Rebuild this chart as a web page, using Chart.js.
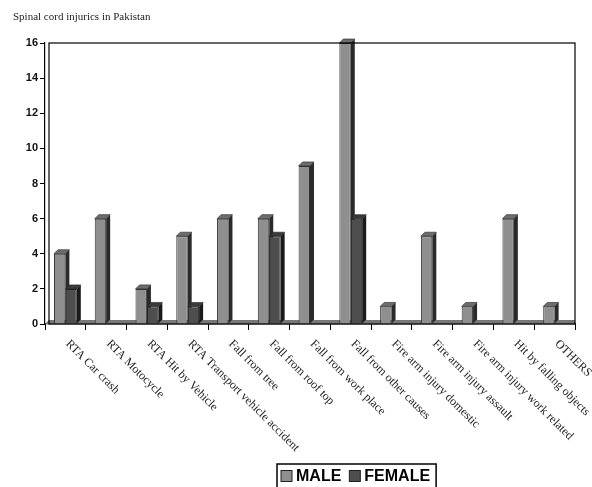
<!DOCTYPE html>
<html>
<head>
<meta charset="utf-8">
<script src="https://cdn.jsdelivr.net/npm/chart.js@4/dist/chart.umd.min.js"></script>
<style>
  html, body { margin: 0; padding: 0; background: #fff; }
  #wrap { width: 592px; height: 487px; }
</style>
</head>
<body>
<div id="wrap"><canvas id="sciChart" width="592" height="487"></canvas></div>
<script>
const chartTitle = 'Spinal cord injurics in Pakistan';
const categories = [
    'RTA Car crash', 'RTA Motocycle', 'RTA Hit by Vehicle', 'RTA Transport vehicle accident',
    'Fall from tree', 'Fall from roof top', 'Fall from work place', 'Fall from other causes',
    'Fire arm injury domestic', 'Fire arm injury assault', 'Fire arm injury work related',
    'Hit by falling objects', 'OTHERS'
];
const maleValues   = [4, 6, 2, 5, 6, 6, 9, 16, 1, 5, 1, 6, 1];
const femaleValues = [2, 0, 1, 1, 0, 5, 0, 6, 0, 0, 0, 0, 0];
const yTicks = [0, 2, 4, 6, 8, 10, 12, 14, 16];

// fake 3d sides + top on each bar, frame, title, slanted labels, boxed legend
const decorPlugin = {
    id: 'decor',
    beforeDatasetsDraw(chart) {
        const ctx = chart.ctx, a = chart.chartArea;
        const d = 4;
        const sides = ['#2a2a2a', '#1a1a1a'];
        const tops = ['#6d6d6d', '#3a3a3a'];
        ctx.save();
        // floor band
        ctx.fillStyle = '#777';
        ctx.beginPath();
        ctx.moveTo(a.left, a.bottom);
        ctx.lineTo(a.left + 4, a.bottom - 4);
        ctx.lineTo(a.right, a.bottom - 4);
        ctx.lineTo(a.right, a.bottom);
        ctx.closePath();
        ctx.fill();
        // sides and tops go behind the front faces
        chart.data.datasets.forEach((ds, i) => {
            chart.getDatasetMeta(i).data.forEach((bar, j) => {
                if (!ds.data[j]) return;
                const r = bar.x + bar.width / 2, l = bar.x - bar.width / 2;
                ctx.fillStyle = sides[i];
                ctx.beginPath();
                ctx.moveTo(r, bar.y);
                ctx.lineTo(r + d, bar.y - d);
                ctx.lineTo(r + d, bar.base - d);
                ctx.lineTo(r, bar.base);
                ctx.closePath();
                ctx.fill();
                ctx.fillStyle = tops[i];
                ctx.beginPath();
                ctx.moveTo(l, bar.y);
                ctx.lineTo(l + d, bar.y - d);
                ctx.lineTo(r + d, bar.y - d);
                ctx.lineTo(r, bar.y);
                ctx.closePath();
                ctx.fill();
                ctx.strokeStyle = '#222';
                ctx.lineWidth = 0.6;
                ctx.stroke();
            });
        });
        ctx.restore();
    },
    afterDatasetsDraw(chart) {
        const ctx = chart.ctx, a = chart.chartArea;
        ctx.save();
        ctx.strokeStyle = '#000';
        ctx.lineWidth = 1.2;
        ctx.strokeRect(a.left + 4, a.top, a.right - a.left - 4, a.bottom - a.top);
        ctx.restore();
    },
    afterDraw(chart) {
        const ctx = chart.ctx;
        const xs = chart.scales.x;
        ctx.save();
        ctx.fillStyle = '#222';
        ctx.font = '11px "Liberation Serif", serif';
        ctx.textBaseline = 'alphabetic';
        ctx.fillText(chartTitle, 13, 20);
        ctx.font = '12px "Liberation Serif", serif';
        ctx.textAlign = 'left';
        ctx.textBaseline = 'middle';
        categories.forEach((c, i) => {
            const x = xs.getPixelForTick(i) + 2;
            ctx.save();
            ctx.translate(x, xs.top + 18);
            ctx.rotate(Math.PI / 4);
            ctx.fillText(c, 0, 0);
            ctx.restore();
        });
        // legend
        ctx.font = 'bold 16px "Liberation Sans", Arial, sans-serif';
        ctx.textBaseline = 'middle';
        let x = 281;
        const yMid = 476;
        chart.data.datasets.forEach((ds, i) => {
            if (i > 0) x += 8;
            ctx.fillStyle = ds.backgroundColor;
            ctx.strokeStyle = '#222';
            ctx.lineWidth = 1;
            ctx.fillRect(x, yMid - 5.5, 11, 11);
            ctx.strokeRect(x, yMid - 5.5, 11, 11);
            x += 15;
            ctx.fillStyle = '#000';
            ctx.fillText(ds.label, x, yMid + 1);
            x += ctx.measureText(ds.label).width;
        });
        ctx.strokeStyle = '#000';
        ctx.lineWidth = 1.5;
        ctx.strokeRect(277, 464, x + 6 - 277, 30);
        ctx.restore();
    }
};

new Chart(document.getElementById('sciChart').getContext('2d'), {
    type: 'bar',
    data: {
        labels: categories,
        datasets: [
            {
                label: 'MALE',
                data: maleValues,
                backgroundColor: '#8f8f8f',
                borderColor: '#333',
                borderWidth: 1
            },
            {
                label: 'FEMALE',
                data: femaleValues,
                backgroundColor: '#4e4e4e',
                borderColor: '#222',
                borderWidth: 1
            }
        ]
    },
    options: {
        responsive: false,
        animation: false,
        devicePixelRatio: 1,
        layout: { padding: { left: 8, right: 17, top: 43, bottom: 0 } },
        datasets: { bar: { categoryPercentage: 0.56, barPercentage: 1 } },
        plugins: {
            title: { display: false },
            tooltip: { enabled: false },
            legend: { display: false }
        },
        scales: {
            x: {
                offset: true,
                grid: { display: true, drawOnChartArea: false, offset: true, tickLength: 6, color: '#000' },
                border: { display: true, color: '#000', width: 1.2 },
                ticks: { display: false },
                afterFit: s => { s.height = 163; }
            },
            y: {
                min: 0,
                max: 16,
                afterBuildTicks: s => { s.ticks = yTicks.map(v => ({ value: v })); },
                grid: { display: true, drawOnChartArea: false, tickLength: 5, color: '#000' },
                border: { display: true, color: '#000', width: 1.2 },
                ticks: {
                    color: '#111',
                    padding: 2,
                    font: { family: '"Liberation Sans", Arial, sans-serif', size: 11, weight: 'bold' }
                },
                afterFit: s => { s.width = 37; }
            }
        }
    },
    plugins: [decorPlugin]
});
</script>
</body>
</html>
